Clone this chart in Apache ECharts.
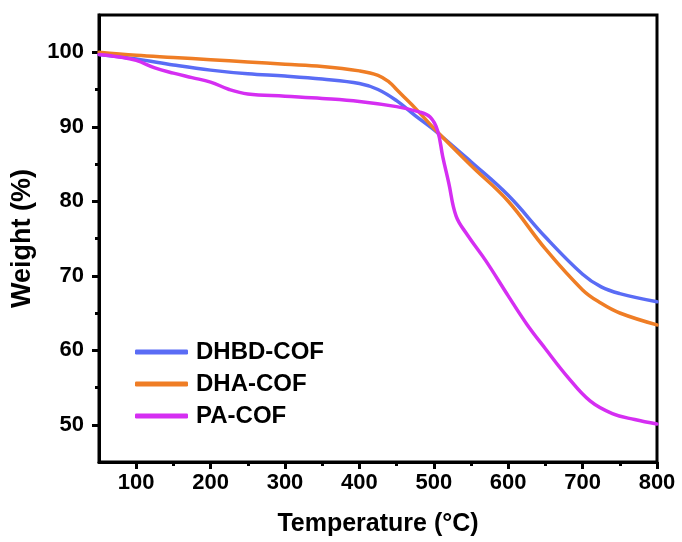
<!DOCTYPE html>
<html>
<head>
<meta charset="utf-8">
<script src="https://cdn.jsdelivr.net/npm/echarts@6/dist/echarts.min.js"></script>
<style>html,body{margin:0;padding:0;background:#fff;}#c{width:682px;height:542px;}</style>
</head>
<body>
<div id="c"></div>
<script>
const seriesNames = ['DHBD-COF', 'DHA-COF', 'PA-COF'];
const dhbdT = [50, 100, 150, 200, 250, 300, 350, 400, 425, 450, 475, 500, 550, 600, 650, 700, 725, 750, 800];
const dhbdW = [99.7, 99.1, 98.3, 97.6, 97.1, 96.8, 96.4, 95.8, 95.0, 93.5, 91.5, 89.6, 85.3, 80.8, 75.2, 70.2, 68.5, 67.6, 66.5];
const dhaT = [50, 100, 150, 200, 250, 300, 350, 400, 425, 440, 450, 460, 475, 500, 550, 600, 650, 700, 725, 750, 800];
const dhaW = [100.0, 99.6, 99.3, 99.0, 98.7, 98.4, 98.1, 97.5, 96.9, 96.0, 95.0, 94.0, 92.5, 89.8, 84.8, 80.0, 73.6, 68.1, 66.3, 65.0, 63.4];
const paT = [50, 75, 100, 125, 150, 175, 200, 225, 250, 300, 350, 400, 450, 480, 495, 505, 512, 520, 530, 545, 570, 600, 625, 650, 680, 710, 740, 770, 800];
const paW = [99.7, 99.4, 98.9, 97.9, 97.2, 96.6, 96.0, 95.0, 94.4, 94.1, 93.8, 93.4, 92.7, 92.0, 91.3, 89.5, 86.0, 82.5, 78.0, 75.5, 72.0, 67.3, 63.5, 60.2, 56.4, 53.2, 51.5, 50.7, 50.1];
const xMajor = [100, 200, 300, 400, 500, 600, 700, 800];
const xMinor = [150, 250, 350, 450, 550, 650, 750];
const yMajor = [50, 60, 70, 80, 90, 100];
const yMinor = [55, 65, 75, 85, 95];
const colors = ['#5a6cf5', '#ef7d25', '#d52ef2'];

const zip = (a, b) => a.map((v, i) => [v, b[i]]);
const font = 'Liberation Sans, Arial, sans-serif';

const chart = echarts.init(document.getElementById('c'));
const baseX = { type: 'value', min: 50, max: 800, gridIndex: 0 };
const baseY = { type: 'value', min: 45, max: 105, gridIndex: 0 };
chart.setOption({
  animation: false,
  grid: { left: 99, right: 25, top: 15, bottom: 76, show: true, borderColor: '#000', borderWidth: 3, backgroundColor: 'transparent' },
  legend: {
    orient: 'vertical', left: 130, top: 335,
    itemWidth: 53, itemHeight: 5, itemGap: 8, icon: 'roundRect',
    textStyle: { fontFamily: font, fontWeight: 'bold', fontSize: 24, color: '#000', padding: [0, 0, 0, 3] },
    data: seriesNames
  },
  xAxis: [
    Object.assign({}, baseX, {
      name: 'Temperature (\u00b0C)', nameLocation: 'middle', nameGap: 50,
      nameTextStyle: { fontFamily: font, fontWeight: 'bold', fontSize: 25, color: '#000' },
      axisLine: { lineStyle: { color: '#000', width: 3 } },
      axisTick: { customValues: xMajor, length: 7, lineStyle: { width: 3, color: '#000' } },
      axisLabel: { customValues: xMajor, margin: 10, fontFamily: font, fontWeight: 'bold', fontSize: 22, color: '#000' },
      splitLine: { show: false }
    }),
    Object.assign({}, baseX, {
      position: 'bottom',
      axisLine: { show: false },
      axisTick: { customValues: xMinor, length: 4, lineStyle: { width: 3, color: '#000' } },
      axisLabel: { show: false }, splitLine: { show: false }
    })
  ],
  yAxis: [
    Object.assign({}, baseY, {
      name: 'Weight (%)', nameLocation: 'middle', nameGap: 60,
      nameTextStyle: { fontFamily: font, fontWeight: 'bold', fontSize: 27, color: '#000' },
      axisLine: { lineStyle: { color: '#000', width: 3 } },
      axisTick: { customValues: yMajor, length: 7, lineStyle: { width: 3, color: '#000' } },
      axisLabel: { customValues: yMajor, margin: 15, fontFamily: font, fontWeight: 'bold', fontSize: 22, color: '#000' },
      splitLine: { show: false }
    }),
    Object.assign({}, baseY, {
      position: 'left',
      axisLine: { show: false },
      axisTick: { customValues: yMinor, length: 4, lineStyle: { width: 3, color: '#000' } },
      axisLabel: { show: false }, splitLine: { show: false }
    })
  ],
  series: [
    { name: seriesNames[0], data: zip(dhbdT, dhbdW) },
    { name: seriesNames[1], data: zip(dhaT, dhaW) },
    { name: seriesNames[2], data: zip(paT, paW) }
  ].map((s, i) => Object.assign({
    type: 'line', smooth: 0.4, showSymbol: false, symbol: 'none',
    xAxisIndex: 0, yAxisIndex: 0,
    color: colors[i],
    lineStyle: { width: 3.5, color: colors[i], cap: 'round' }
  }, s))
});
</script>
</body>
</html>
